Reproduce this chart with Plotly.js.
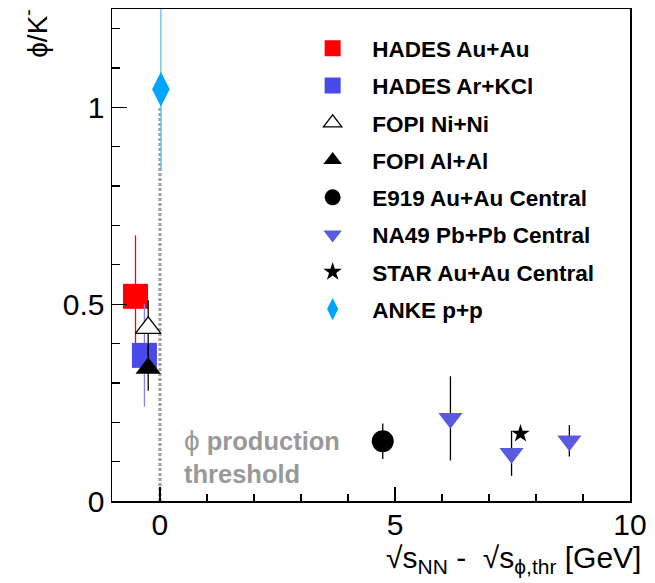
<!DOCTYPE html>
<html>
<head>
<meta charset="utf-8">
<script src="https://cdn.plot.ly/plotly-3.0.1.min.js"></script>
<style>html,body{margin:0;padding:0;background:#fff;}#plot{width:655px;height:583px;}</style>
</head>
<body>
<div id="plot"></div>
<script>
// Data
const seriesNames = ["HADES Au+Au", "HADES Ar+KCl", "FOPI Ni+Ni", "FOPI Al+Al",
                     "E919 Au+Au Central", "NA49 Pb+Pb Central", "STAR Au+Au Central", "ANKE p+p"];
const hadesAuX = [-0.52], hadesAuY = [0.52], hadesAuErr = [0.155];
const hadesArX = [-0.33], hadesArY = [0.37], hadesArErr = [0.13];
const fopiNiX = [-0.25], fopiNiY = [0.44], fopiNiErr = [0.07];
const fopiAlX = [-0.25], fopiAlY = [0.337], fopiAlErr = [0.057];
const e919X = [4.74], e919Y = [0.152], e919Err = [0.045];
const na49X = [6.18, 7.48, 8.71], na49Y = [0.21, 0.121, 0.153], na49Err = [0.107, 0.057, 0.04];
const starX = [7.67], starY = [0.171], starErr = [0.0];
const ankeX = [0.02], ankeY = [1.046], ankeErr = [0.206];
const thresholdX = [0, 0], thresholdY = [0, 1.0];
const xTickVals = [0, 5, 10], yTickVals = [0, 0.5, 1];

const FONT = "Liberation Sans, Arial, Helvetica, sans-serif";

function errY(arr, color) {
  return {type: 'data', array: arr, visible: true, color: color, thickness: 1.3, width: 0};
}

const traces = [
  {x: thresholdX, y: thresholdY, mode: 'lines', showlegend: false, hoverinfo: 'skip',
   line: {color: '#a0a0a0', width: 3.2, dash: '3px,2px'}},
  {x: hadesAuX, y: hadesAuY, name: seriesNames[0], legendgroup: 'g0', mode: 'markers',
   error_y: errY(hadesAuErr, '#ff0000'),
   marker: {symbol: 'square', size: 25, color: '#ff0000'}},
  {x: hadesArX, y: hadesArY, name: seriesNames[1], legendgroup: 'g1', mode: 'markers',
   error_y: errY(hadesArErr, '#8080f5'),
   marker: {symbol: 'square', size: 25, color: '#4848eb'}},
  {x: fopiNiX, y: fopiNiY, name: seriesNames[2], legendgroup: 'g2', mode: 'markers',
   error_y: errY(fopiNiErr, '#000000'),
   marker: {symbol: 'triangle-up', size: 22, color: '#ffffff', line: {color: '#000000', width: 1.3}}},
  {x: fopiAlX, y: fopiAlY, name: seriesNames[3], legendgroup: 'g3', mode: 'markers',
   error_y: errY(fopiAlErr, '#000000'),
   marker: {symbol: 'triangle-up', size: 22, color: '#000000'}},
  {x: e919X, y: e919Y, name: seriesNames[4], legendgroup: 'g4', mode: 'markers',
   error_y: errY(e919Err, '#000000'),
   marker: {symbol: 'circle', size: 22, color: '#000000'}},
  {x: na49X, y: na49Y, name: seriesNames[5], legendgroup: 'g5', mode: 'markers',
   error_y: errY(na49Err, '#000000'),
   marker: {symbol: 'triangle-down', size: 21, color: '#5a5ade'}},
  {x: starX, y: starY, name: seriesNames[6], legendgroup: 'g6', mode: 'markers',
   error_y: errY(starErr, '#000000'),
   marker: {symbol: 'star', size: 14, color: '#000000'}},
  {x: ankeX, y: ankeY, name: seriesNames[7], legendgroup: 'g7', mode: 'markers',
   error_y: errY(ankeErr, '#5cc0f5'),
   marker: {symbol: 'diamond-tall', size: 25, color: '#00a5ff'}}
];

const layout = {
  width: 655, height: 583,
  margin: {l: 112, r: 25, t: 9, b: 82},
  paper_bgcolor: '#ffffff', plot_bgcolor: '#ffffff',
  font: {family: FONT, color: '#000000'},
  showlegend: true,
  legend: {x: 0.3497, y: 0.963, xanchor: 'left', yanchor: 'top',
           bgcolor: 'rgba(0,0,0,0)', borderwidth: 0,
           font: {family: FONT, size: 22.5, weight: 'bold', color: '#000000'},
           traceorder: 'grouped', tracegroupgap: 5, itemwidth: 69},
  xaxis: {range: [-1.02, 10], tickvals: xTickVals, ticks: 'inside', ticklen: 14, tickwidth: 1.3,
          tickcolor: '#000', showline: true, linecolor: '#000', linewidth: 1.5, mirror: true,
          showgrid: false, zeroline: false, ticklabelstandoff: -4,
          tickfont: {family: FONT, size: 30, color: '#000'},
          minor: {dtick: 1, tick0: 0, ticks: 'inside', ticklen: 7, tickwidth: 1.3, tickcolor: '#000', showgrid: false}},
  yaxis: {range: [0, 1.25], tickvals: yTickVals, ticks: 'inside', ticklen: 15, tickwidth: 1.3,
          tickcolor: '#000', showline: true, linecolor: '#000', linewidth: 1.5, mirror: true,
          showgrid: false, zeroline: false,
          tickfont: {family: FONT, size: 30, color: '#000'},
          minor: {dtick: 0.1, tick0: 0, ticks: 'inside', ticklen: 8, tickwidth: 1.3, tickcolor: '#000', showgrid: false}},
  annotations: [
    {xref: 'paper', yref: 'paper', x: 1.025, y: -0.118, xanchor: 'right', yanchor: 'middle',
     showarrow: false, font: {family: FONT, size: 30, color: '#000'},
     text: '√s<sub>NN</sub> -  √s<sub>ϕ,thr</sub> [GeV]'},
    {xref: 'paper', yref: 'paper', x: -0.15, y: 1.004, xanchor: 'center', yanchor: 'top',
     textangle: -90, showarrow: false, font: {family: FONT, size: 28, color: '#000'},
     text: 'ϕ/K<sup>-</sup>'},
    {xref: 'paper', yref: 'paper', x: 0.135, y: 0.09, xanchor: 'left', yanchor: 'middle', align: 'left',
     showarrow: false, font: {family: FONT, size: 25.5, color: '#999999', weight: 'bold'},
     text: '<span style="font-weight:normal;font-size:28px">ϕ</span> production<br>threshold'}
  ]
};

Plotly.newPlot('plot', traces, layout, {displayModeBar: false, staticPlot: true});
</script>
</body>
</html>
